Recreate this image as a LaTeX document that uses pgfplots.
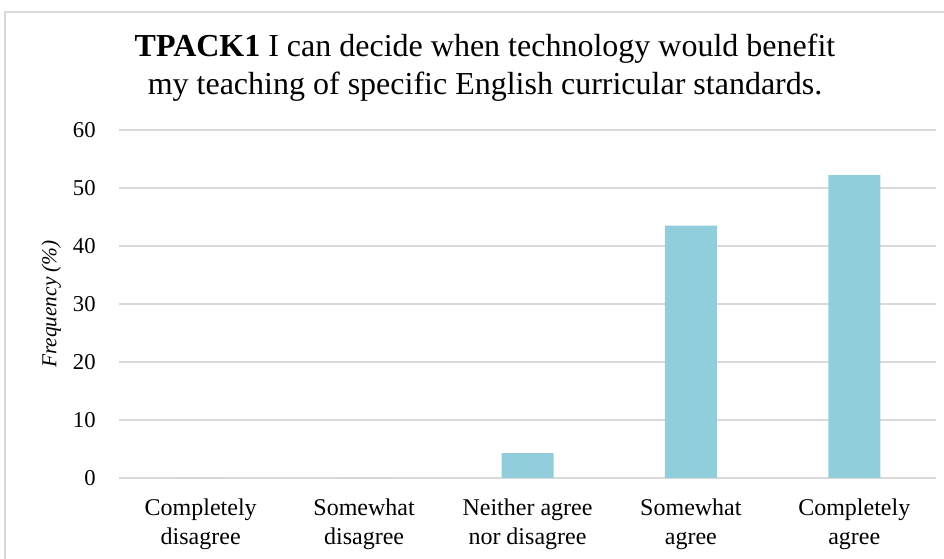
\documentclass[border=0pt]{standalone}
\usepackage{pgfplots}
\pgfplotsset{compat=1.18}
\usepackage{fontspec}
\setmainfont{Liberation Serif}
\definecolor{barc}{HTML}{92CDDC}
\definecolor{gridc}{HTML}{D9D9D9}
\begin{document}
\begin{tikzpicture}[x=0.75pt,y=0.75pt]
\path[use as bounding box] (-119,-81) rectangle (825,478);
\draw[gridc, line width=1.5pt] (-114,-90) -- (-114,466) -- (830,466);
\node[align=center, font=\fontsize{24}{28.5}\selectfont, anchor=center] at (366,410)
  {\textbf{TPACK1} I can decide when technology would benefit\\my teaching of specific English curricular standards.};
\begin{axis}[
  at={(0,0)}, anchor=south west,
  scale only axis, width=612.75pt, height=261pt,
  ymin=0, ymax=60, ytick={0,10,...,60},
  xmin=-0.5, xmax=4.5, xtick={0,1,2,3,4},
  xticklabels={Completely\\disagree, Somewhat\\disagree, Neither agree\\nor disagree, Somewhat\\agree, Completely\\agree},
  xticklabel style={align=center, font=\fontsize{18}{22}\selectfont, yshift=-12pt},
  yticklabel style={font=\fontsize{17}{18}\selectfont, xshift=-14pt},
  /pgf/number format/assume math mode=true,
  ylabel={\textit{Frequency (\%)}},
  ylabel style={font=\fontsize{16}{18}\selectfont, at={(axis description cs:-0.083,0.5)}, anchor=center},
  axis line style={draw=none},
  major tick length=0pt,
  ymajorgrids, grid style={gridc, line width=1.1pt},
]
\addplot[ybar, bar width=39pt, fill=barc, draw=none] coordinates {(0,0) (1,0) (2,4.3) (3,43.5) (4,52.2)};
\end{axis}
\end{tikzpicture}
\end{document}
